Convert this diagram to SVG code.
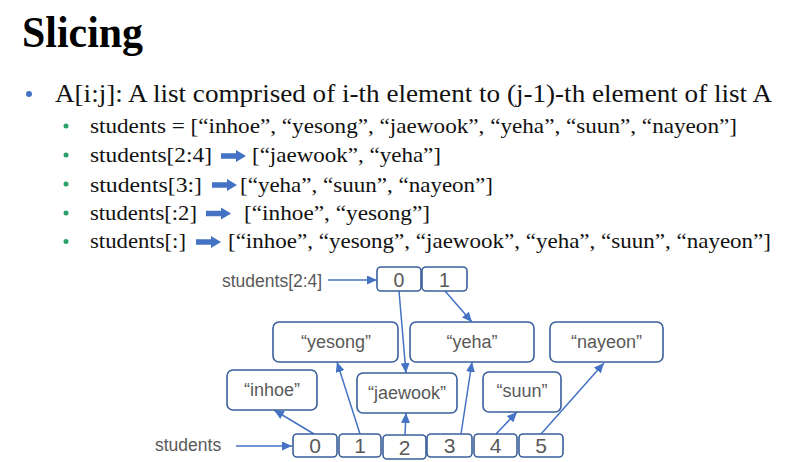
<svg xmlns="http://www.w3.org/2000/svg" width="786" height="462" viewBox="0 0 786 462">
  <style>
    .title { font-family: "Liberation Serif", "Times New Roman", serif; font-weight: bold; font-size: 44px; fill: #000; }
    .l1 { font-family: "Liberation Serif", "Times New Roman", serif; font-size: 25px; fill: #111; }
    .l2 { font-family: "Liberation Serif", "Times New Roman", serif; font-size: 22px; fill: #111; }
    .lab { font-family: "Liberation Sans", Arial, sans-serif; font-size: 17.5px; fill: #595959; }
    .val { font-family: "Liberation Sans", Arial, sans-serif; font-size: 18px; fill: #595959; text-anchor: middle; }
    .dig { font-family: "Liberation Sans", Arial, sans-serif; font-size: 21px; fill: #595959; text-anchor: middle; }
    .box { fill: #fff; stroke: #3A5F9A; stroke-width: 1.6; }
    .con { stroke: #4472C4; stroke-width: 1.5; fill: none; marker-end: url(#ah); }
    .gb { fill: #2AA06A; }
  </style>
  <defs>
    <marker id="ah" markerUnits="userSpaceOnUse" markerWidth="10" markerHeight="9" refX="10" refY="4.5" orient="auto">
      <path d="M0,0 L10,4.5 L0,9 z" fill="#4472C4"/>
    </marker>
    <path id="blk" d="M0,-2.8 H15 V-6 L25,0 L15,6 V2.8 H0 Z" fill="#4472C4"/>
  </defs>

  <rect width="786" height="462" fill="#fff"/>

  <g id="title">
    <text class="title" x="22" y="47" textLength="121" lengthAdjust="spacingAndGlyphs">Slicing</text>
  </g>

  <g id="bullets">
    <circle cx="29" cy="94" r="3" fill="#4472C4"/>
    <text class="l1" x="55" y="102" textLength="717" lengthAdjust="spacingAndGlyphs">A[i:j]: A list comprised of i-th element to (j-1)-th element of list A</text>

    <circle class="gb" cx="66" cy="126" r="2.5"/>
    <text class="l2" x="90" y="133" textLength="647" lengthAdjust="spacingAndGlyphs">students = [“inhoe”, “yesong”, “jaewook”, “yeha”, “suun”, “nayeon”]</text>

    <circle class="gb" cx="66" cy="155" r="2.5"/>
    <text class="l2" x="90" y="162" textLength="122" lengthAdjust="spacingAndGlyphs">students[2:4]</text>
    <use href="#blk" x="221" y="156"/>
    <text class="l2" x="252" y="162" textLength="189" lengthAdjust="spacingAndGlyphs">[“jaewook”, “yeha”]</text>

    <circle class="gb" cx="66" cy="184" r="2.5"/>
    <text class="l2" x="90" y="191.5" textLength="112" lengthAdjust="spacingAndGlyphs">students[3:]</text>
    <use href="#blk" x="212" y="185"/>
    <text class="l2" x="240" y="191.5" textLength="253" lengthAdjust="spacingAndGlyphs">[“yeha”, “suun”, “nayeon”]</text>

    <circle class="gb" cx="66" cy="213" r="2.5"/>
    <text class="l2" x="90" y="219.5" textLength="107" lengthAdjust="spacingAndGlyphs">students[:2]</text>
    <use href="#blk" x="206" y="213.5"/>
    <text class="l2" x="244" y="219.5" textLength="186" lengthAdjust="spacingAndGlyphs">[“inhoe”, “yesong”]</text>

    <circle class="gb" cx="66" cy="241.5" r="2.5"/>
    <text class="l2" x="90" y="248" textLength="96" lengthAdjust="spacingAndGlyphs">students[:]</text>
    <use href="#blk" x="196" y="242"/>
    <text class="l2" x="228" y="248" textLength="543" lengthAdjust="spacingAndGlyphs">[“inhoe”, “yesong”, “jaewook”, “yeha”, “suun”, “nayeon”]</text>
  </g>

  <g id="connectors">
    <line class="con" x1="236" y1="446" x2="292" y2="446"/>
    <line class="con" x1="328" y1="280" x2="377" y2="280"/>
    <line class="con" x1="399" y1="291" x2="406" y2="373"/>
    <line class="con" x1="445" y1="291" x2="472" y2="322"/>
    <line class="con" x1="314" y1="434" x2="274" y2="410"/>
    <line class="con" x1="360" y1="434" x2="337" y2="362"/>
    <line class="con" x1="405" y1="435" x2="406" y2="413"/>
    <line class="con" x1="461" y1="434" x2="472" y2="362"/>
    <line class="con" x1="496" y1="434" x2="517" y2="412"/>
    <line class="con" x1="541" y1="434" x2="604" y2="363"/>
  </g>

  <g id="label-students-2-4">
    <text class="lab" x="222" y="287">students[2:4]</text>
  </g>
  <g id="label-students">
    <text class="lab" x="155" y="451">students</text>
  </g>

  <g id="slice-0">
    <rect class="box" x="377" y="267" width="44" height="24" rx="4"/>
    <text class="dig" x="399" y="287" style="font-size:19.5px">0</text>
  </g>
  <g id="slice-1">
    <rect class="box" x="422" y="267" width="45" height="24" rx="4"/>
    <text class="dig" x="444.5" y="287" style="font-size:19.5px">1</text>
  </g>

  <g id="yesong">
    <rect class="box" x="273" y="322" width="125" height="40" rx="6"/>
    <text class="val" x="336" y="348">“yesong”</text>
  </g>
  <g id="yeha">
    <rect class="box" x="410" y="322" width="124" height="40" rx="6"/>
    <text class="val" x="472" y="348">“yeha”</text>
  </g>
  <g id="nayeon">
    <rect class="box" x="550" y="322" width="113" height="40" rx="6"/>
    <text class="val" x="606.5" y="348">“nayeon”</text>
  </g>
  <g id="inhoe">
    <rect class="box" x="227" y="370" width="90" height="40" rx="6"/>
    <text class="val" x="272" y="396">“inhoe”</text>
  </g>
  <g id="jaewook">
    <rect class="box" x="357" y="373" width="100" height="40" rx="6"/>
    <text class="val" x="407" y="399">“jaewook”</text>
  </g>
  <g id="suun">
    <rect class="box" x="483" y="372" width="78" height="40" rx="6"/>
    <text class="val" x="522" y="397">“suun”</text>
  </g>

  <g id="idx-0">
    <rect class="box" x="293" y="434" width="44" height="23" rx="4"/>
    <text class="dig" x="315" y="453">0</text>
  </g>
  <g id="idx-1">
    <rect class="box" x="339" y="434" width="42" height="23" rx="4"/>
    <text class="dig" x="360" y="453">1</text>
  </g>
  <g id="idx-2">
    <rect class="box" x="383" y="435" width="43" height="24" rx="4"/>
    <text class="dig" x="404.5" y="455">2</text>
  </g>
  <g id="idx-3">
    <rect class="box" x="427" y="434" width="45" height="23" rx="4"/>
    <text class="dig" x="449.5" y="453">3</text>
  </g>
  <g id="idx-4">
    <rect class="box" x="474" y="434" width="43" height="23" rx="4"/>
    <text class="dig" x="495.5" y="453">4</text>
  </g>
  <g id="idx-5">
    <rect class="box" x="519" y="434" width="44" height="23" rx="4"/>
    <text class="dig" x="541" y="453">5</text>
  </g>
</svg>
